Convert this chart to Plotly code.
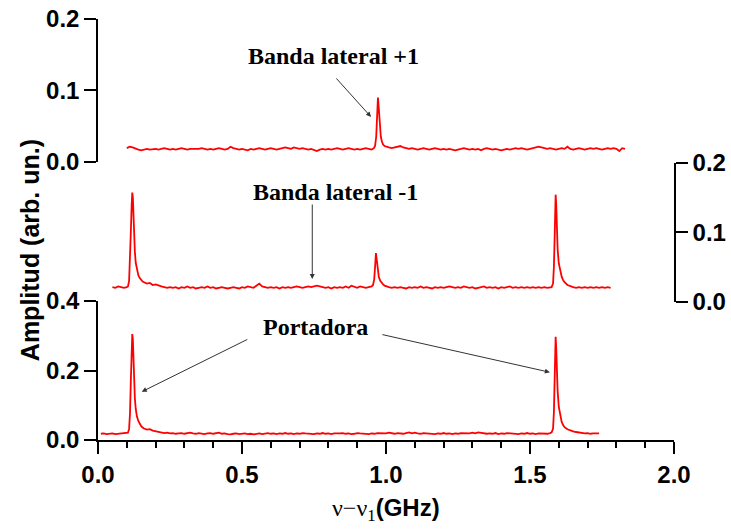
import plotly.graph_objects as go

# ---------------- data ----------------
# bottom spectrum (left axis 0-0.4)
bottom_x = [0.01,0.02,0.03,0.04,0.05,0.06,0.07,0.08,0.09,0.10,
    0.104,0.108,0.111,0.114,0.117,0.119,0.121,0.123,0.125,0.128,0.131,0.135,0.14,0.145,0.15,0.155,
    0.16,0.17,0.18,0.19,0.20,0.21,0.22,0.23,0.24,0.25,
    0.26,0.27,0.28,0.29,0.30,0.31,0.32,0.33,0.34,0.35,
    0.36,0.37,0.38,0.39,0.40,0.41,0.42,0.43,0.44,0.45,
    0.46,0.47,0.48,0.49,0.50,0.51,0.52,0.53,0.54,0.55,
    0.56,0.57,0.58,0.59,0.60,0.61,0.62,0.63,0.64,0.65,
    0.66,0.67,0.68,0.69,0.70,0.71,0.72,0.73,0.74,0.75,
    0.76,0.77,0.78,0.79,0.80,0.81,0.82,0.83,0.84,0.85,
    0.86,0.87,0.88,0.89,0.90,0.91,0.92,0.93,0.94,0.95,
    0.96,0.97,0.98,0.99,1.00,1.01,1.02,1.03,1.04,1.05,
    1.06,1.07,1.08,1.09,1.10,1.11,1.12,1.13,1.14,1.15,
    1.16,1.17,1.18,1.19,1.20,1.21,1.22,1.23,1.24,1.25,
    1.26,1.27,1.28,1.29,1.30,1.31,1.32,1.33,1.34,1.35,
    1.36,1.37,1.38,1.39,1.40,1.41,1.42,1.43,1.44,1.45,
    1.46,1.47,1.48,1.49,1.50,1.51,1.52,1.53,1.54,1.55,
    1.56,1.57,
    1.575,1.58,1.583,1.586,1.589,1.591,1.593,1.596,1.60,1.605,1.61,1.615,
    1.62,1.63,1.64,1.65,1.66,1.67,1.68,1.69,1.70,1.71,1.72,1.73,1.74]
bottom_y = [0.018,0.019,0.017,0.018,0.019,0.017,0.018,0.019,0.018,0.019,
    0.021,0.032,0.075,0.17,0.27,0.305,0.29,0.22,0.17,0.12,0.09,0.068,0.055,0.046,0.040,0.036,
    0.033,0.030,0.031,0.027,0.025,0.023,0.022,0.020,0.021,0.019,
    0.020,0.018,0.019,0.020,0.018,0.019,0.021,0.019,0.018,0.020,
    0.019,0.017,0.019,0.020,0.018,0.019,0.021,0.018,0.019,0.017,
    0.016,0.018,0.019,0.017,0.018,0.019,0.017,0.018,0.016,0.018,
    0.019,0.017,0.018,0.020,0.018,0.019,0.017,0.019,0.018,0.020,
    0.018,0.019,0.017,0.019,0.018,0.020,0.019,0.018,0.019,0.017,
    0.019,0.018,0.020,0.018,0.019,0.017,0.019,0.018,0.019,0.020,
    0.018,0.019,0.017,0.018,0.020,0.019,0.018,0.019,0.017,0.019,
    0.018,0.020,0.019,0.018,0.019,0.021,0.019,0.018,0.020,0.019,
    0.018,0.020,0.022,0.019,0.021,0.019,0.018,0.020,0.019,0.018,
    0.019,0.017,0.019,0.018,0.020,0.018,0.019,0.017,0.019,0.018,
    0.020,0.019,0.018,0.019,0.021,0.019,0.022,0.020,0.019,0.018,
    0.019,0.018,0.020,0.017,0.019,0.018,0.020,0.019,0.018,0.019,
    0.017,0.019,0.018,0.020,0.018,0.019,0.017,0.019,0.018,0.019,
    0.018,0.020,
    0.022,0.032,0.08,0.19,0.297,0.265,0.20,0.14,0.095,0.068,0.052,0.043,
    0.037,0.031,0.027,0.025,0.023,0.021,0.020,0.019,0.020,0.018,0.019,0.020,0.019]

# middle spectrum (right axis 0-0.2)
middle_x = [0.05,0.06,0.07,0.08,0.09,0.10,
    0.104,0.108,0.111,0.114,0.117,0.119,0.121,0.123,0.125,0.128,0.131,0.135,0.14,0.145,0.15,0.155,
    0.16,0.17,0.18,0.19,0.20,0.21,0.22,0.23,0.24,0.25,
    0.26,0.27,0.28,0.29,0.30,0.31,0.32,0.33,0.34,0.35,
    0.36,0.37,0.38,0.39,0.40,0.41,0.42,0.43,0.44,0.45,
    0.46,0.47,0.48,0.49,0.50,0.51,0.52,0.53,0.54,0.55,
    0.56,0.57,0.58,0.59,0.60,0.61,0.62,0.63,0.64,0.65,
    0.66,0.67,0.68,0.69,0.70,0.71,0.72,0.73,0.74,0.75,
    0.76,0.77,0.78,0.79,0.80,0.81,0.82,0.83,0.84,0.85,
    0.86,0.87,0.88,0.89,0.90,0.91,0.92,0.93,0.94,0.95,
    0.955,0.959,0.962,0.965,0.968,0.971,0.975,0.98,0.985,0.99,0.995,
    1.00,1.01,1.02,1.03,1.04,1.05,1.06,1.07,1.08,1.09,
    1.10,1.11,1.12,1.13,1.14,1.15,1.16,1.17,1.18,1.19,
    1.20,1.21,1.22,1.23,1.24,1.25,1.26,1.27,1.28,1.29,
    1.30,1.31,1.32,1.33,1.34,1.35,1.36,1.37,1.38,1.39,
    1.40,1.41,1.42,1.43,1.44,1.45,1.46,1.47,1.48,1.49,
    1.50,1.51,1.52,1.53,1.54,1.55,1.56,1.57,
    1.575,1.58,1.583,1.586,1.589,1.591,1.593,1.596,1.60,1.605,1.61,1.615,
    1.62,1.63,1.64,1.65,1.66,1.67,1.68,1.69,1.70,1.71,1.72,1.73,1.74,1.75,1.76,1.77,1.78]
middle_y = [0.021,0.020,0.022,0.021,0.020,0.021,
    0.022,0.030,0.055,0.10,0.14,0.157,0.15,0.12,0.095,0.072,0.056,0.045,0.038,0.034,0.031,0.029,
    0.028,0.026,0.027,0.024,0.025,0.023,0.022,0.021,0.020,0.021,
    0.020,0.021,0.019,0.021,0.020,0.022,0.020,0.021,0.019,0.020,
    0.021,0.020,0.022,0.020,0.021,0.019,0.020,0.021,0.020,0.019,
    0.020,0.021,0.020,0.019,0.021,0.020,0.022,0.021,0.020,0.023,
    0.026,0.022,0.021,0.020,0.021,0.020,0.021,0.019,0.021,0.020,
    0.021,0.020,0.021,0.022,0.021,0.020,0.021,0.022,0.021,0.022,
    0.023,0.022,0.021,0.020,0.021,0.019,0.021,0.020,0.021,0.020,
    0.022,0.020,0.023,0.021,0.020,0.022,0.021,0.020,0.021,0.022,
    0.024,0.032,0.050,0.070,0.060,0.045,0.036,0.030,0.027,0.025,0.023,
    0.022,0.021,0.020,0.021,0.020,0.021,0.020,0.019,0.021,0.020,
    0.021,0.020,0.022,0.020,0.021,0.020,0.019,0.021,0.020,0.021,
    0.020,0.021,0.022,0.021,0.020,0.021,0.020,0.022,0.021,0.020,
    0.021,0.019,0.020,0.021,0.022,0.020,0.021,0.020,0.021,0.019,
    0.021,0.020,0.021,0.022,0.020,0.021,0.020,0.021,0.020,0.021,
    0.020,0.021,0.020,0.021,0.020,0.021,0.020,0.021,
    0.021,0.026,0.050,0.10,0.154,0.14,0.11,0.075,0.055,0.044,0.036,0.031,
    0.028,0.024,0.022,0.021,0.020,0.021,0.020,0.021,0.020,0.021,0.020,0.021,0.020,0.021,0.020,0.021,0.020]

# top spectrum (left axis 0-0.2)
top_x = [0.10,0.11,0.12,0.13,0.14,0.15,0.16,0.17,0.18,0.19,
    0.20,0.21,0.22,0.23,0.24,0.25,0.26,0.27,0.28,0.29,
    0.30,0.31,0.32,0.33,0.34,0.35,0.36,0.37,0.38,0.39,
    0.40,0.41,0.42,0.43,0.44,0.45,0.46,0.47,0.48,0.49,
    0.50,0.51,0.52,0.53,0.54,0.55,0.56,0.57,0.58,0.59,
    0.60,0.61,0.62,0.63,0.64,0.65,0.66,0.67,0.68,0.69,
    0.70,0.71,0.72,0.73,0.74,0.75,0.76,0.77,0.78,0.79,
    0.80,0.81,0.82,0.83,0.84,0.85,0.86,0.87,0.88,0.89,
    0.90,0.91,0.92,0.93,0.94,0.95,
    0.958,0.962,0.966,0.969,0.972,0.975,0.978,0.982,0.986,0.99,0.995,
    1.00,1.01,1.02,1.03,1.04,1.05,1.06,1.07,1.08,1.09,
    1.10,1.11,1.12,1.13,1.14,1.15,1.16,1.17,1.18,1.19,
    1.20,1.21,1.22,1.23,1.24,1.25,1.26,1.27,1.28,1.29,
    1.30,1.31,1.32,1.33,1.34,1.35,1.36,1.37,1.38,1.39,
    1.40,1.41,1.42,1.43,1.44,1.45,1.46,1.47,1.48,1.49,
    1.50,1.51,1.52,1.53,1.54,1.55,1.56,1.57,1.58,1.59,
    1.60,1.61,1.62,1.63,1.64,1.65,1.66,1.67,1.68,1.69,
    1.70,1.71,1.72,1.73,1.74,1.75,1.76,1.77,1.78,1.79,
    1.80,1.81,1.82,1.83]
top_y = [0.019,0.021,0.020,0.018,0.017,0.016,0.017,0.018,0.017,0.018,
    0.018,0.017,0.018,0.019,0.018,0.017,0.018,0.017,0.018,0.019,
    0.018,0.017,0.018,0.018,0.017,0.018,0.019,0.018,0.017,0.018,
    0.017,0.018,0.019,0.018,0.017,0.018,0.021,0.019,0.018,0.017,
    0.018,0.017,0.016,0.018,0.017,0.018,0.019,0.018,0.017,0.018,
    0.019,0.018,0.017,0.018,0.019,0.020,0.019,0.018,0.020,0.019,
    0.018,0.019,0.018,0.017,0.018,0.017,0.015,0.017,0.018,0.017,
    0.018,0.017,0.018,0.019,0.018,0.017,0.018,0.019,0.018,0.017,
    0.018,0.017,0.018,0.019,0.018,0.017,
    0.019,0.022,0.035,0.065,0.090,0.075,0.050,0.035,0.028,0.024,0.022,
    0.021,0.020,0.019,0.020,0.021,0.022,0.020,0.019,0.018,0.019,
    0.018,0.017,0.018,0.019,0.018,0.017,0.018,0.019,0.018,0.017,
    0.018,0.017,0.018,0.017,0.016,0.017,0.018,0.019,0.018,0.017,
    0.018,0.017,0.018,0.016,0.018,0.019,0.018,0.017,0.018,0.017,
    0.016,0.017,0.018,0.017,0.018,0.019,0.018,0.019,0.018,0.017,
    0.018,0.019,0.020,0.021,0.020,0.019,0.018,0.019,0.018,0.017,
    0.018,0.019,0.018,0.021,0.018,0.017,0.018,0.019,0.018,0.017,
    0.018,0.019,0.018,0.019,0.018,0.017,0.018,0.019,0.018,0.019,
    0.018,0.015,0.019,0.018]

x_ticks = [0.0, 0.5, 1.0, 1.5, 2.0]
x_tick_labels = ["0.0", "0.5", "1.0", "1.5", "2.0"]

# ---------------- figure ----------------
RED = "#ff0000"
fig = go.Figure()
fig.add_trace(go.Scatter(x=bottom_x, y=bottom_y, mode="lines",
                         line=dict(color=RED, width=1.8), xaxis="x", yaxis="y"))
fig.add_trace(go.Scatter(x=middle_x, y=middle_y, mode="lines",
                         line=dict(color=RED, width=1.8), xaxis="x", yaxis="y2"))
fig.add_trace(go.Scatter(x=top_x, y=top_y, mode="lines",
                         line=dict(color=RED, width=1.8), xaxis="x", yaxis="y3"))

tickfont = dict(family="Liberation Sans, Arial", size=24, color="black", weight="bold")
axis_common = dict(showline=True, linecolor="black", linewidth=1.5, ticks="outside",
                   ticklen=12, tickwidth=1.5, tickcolor="black", showgrid=False,
                   zeroline=False, tickfont=tickfont, tickformat=".1f", fixedrange=True)

fig.update_layout(
    width=731, height=529,
    margin=dict(l=98, r=57, t=19, b=89, autoexpand=False),
    paper_bgcolor="white", plot_bgcolor="white",
    showlegend=False,
    xaxis=dict(domain=[0, 1], range=[0, 2], anchor="y",
               tickvals=x_ticks, ticktext=x_tick_labels,
               minor=dict(dtick=0.1, ticks="outside", ticklen=6, tickwidth=1.5,
                          tickcolor="black", showgrid=False),
               **{k: v for k, v in axis_common.items() if k != "tickformat"}),
    yaxis=dict(domain=[0, 0.330], range=[0, 0.4], dtick=0.2, anchor="x", **axis_common),
    yaxis2=dict(domain=[0.3285, 0.6587], range=[0, 0.2], dtick=0.1, anchor="x",
                side="right", **axis_common),
    yaxis3=dict(domain=[0.661, 1.0], range=[0, 0.2], dtick=0.1, anchor="x", **axis_common),
)

serif = dict(family="Liberation Serif, Times New Roman", size=24, color="black", weight="bold")
arrow_style = dict(showarrow=True, arrowhead=2, arrowsize=1, arrowwidth=1,
                   arrowcolor="#333333", text="", standoff=0)

annotations = [
    dict(text="Banda lateral +1", x=0.4097, y=0.912, xref="paper", yref="paper",
         showarrow=False, font=serif, xanchor="center", yanchor="middle"),
    dict(text="Banda lateral -1", x=0.413, y=0.589, xref="paper", yref="paper",
         showarrow=False, font=serif, xanchor="center", yanchor="middle"),
    dict(text="Portadora", x=0.3776, y=0.268, xref="paper", yref="paper",
         showarrow=False, font=serif, xanchor="center", yanchor="middle"),
    dict(x=0.948, y=0.0628, xref="x", yref="y3", ax=-36, ay=-40, **arrow_style),
    dict(x=0.744, y=0.0327, xref="x", yref="y2", ax=0, ay=-76, **arrow_style),
    dict(x=0.152, y=0.139, xref="x", yref="y", ax=107, ay=-53, **arrow_style),
    dict(x=1.569, y=0.195, xref="x", yref="y", ax=-169, ay=-38, **arrow_style),
    dict(text="Amplitud (arb. un.)", x=-0.118, y=0.451, xref="paper", yref="paper",
         textangle=-90, showarrow=False, xanchor="center", yanchor="middle",
         font=dict(family="Liberation Sans, Arial", size=25, color="black", weight="bold")),
    dict(text='<span style="font-family:Liberation Serif, Times New Roman;font-weight:normal">'
              'ν−ν<sub>1</sub></span>(GHz)',
         x=0.5, y=-0.166, xref="paper", yref="paper", showarrow=False,
         xanchor="center", yanchor="middle",
         font=dict(family="Liberation Sans, Arial", size=24, color="black", weight="bold")),
]
fig.update_layout(annotations=annotations)

fig.write_html("out.html")
